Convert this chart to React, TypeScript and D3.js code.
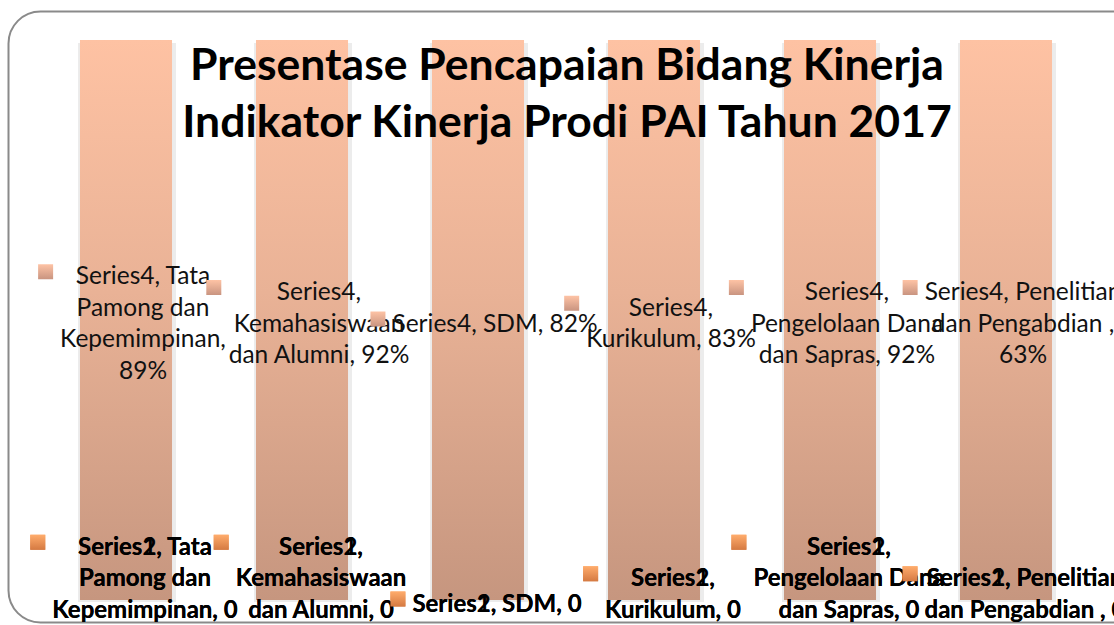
import React from 'react';
import * as d3 from 'd3';

// ---- data ----
const categories = [
  'Tata Pamong dan Kepemimpinan',
  'Kemahasiswaan dan Alumni',
  'SDM',
  'Kurikulum',
  'Pengelolaan Dana dan Sapras',
  'Penelitian dan Pengabdian ',
];
const series1 = [0, 0, 0, 0, 0, 0];
const series2 = [0, 0, 0, 0, 0, 0];
const series4 = [0.89, 0.92, 0.82, 0.83, 0.92, 0.63];
const seriesNames = ['Series1', 'Series2', 'Series4'];
const titleLines = ['Presentase Pencapaian Bidang Kinerja', 'Indikator Kinerja Prodi PAI Tahun 2017'];
// words per line of each data label (as wrapped in the original)
const topWrap = [[2, 2, 1, 1], [1, 1, 3], [3], [1, 2], [1, 2, 3], [2, 3, 1]];
const bottomWrap = [[2, 2, 2], [1, 1, 3], [3], [1, 2], [1, 2, 3], [2, 4]];

const W = 1114;
const H = 625;
const FONT = 'Lato, "Open Sans", sans-serif';
const LABEL_SIZE = 24.5;
const BOLD_SIZE = 24;
const LINE_H = 31.5;

let ctx: CanvasRenderingContext2D | null = null;
function measure(text: string, font: string): number {
  if (!ctx) ctx = document.createElement('canvas').getContext('2d');
  if (!ctx) return text.length * 10;
  ctx.font = font;
  return ctx.measureText(text).width;
}

function wrap(text: string, counts: number[]): string[] {
  const words = text.split(' ');
  const out: string[] = [];
  let i = 0;
  counts.forEach((c) => {
    out.push(words.slice(i, i + c).join(' '));
    i += c;
  });
  return out;
}

const pct = d3.format('.0%');

export default function App() {
  const rows = categories.map((c, i) => ({
    cat: c,
    Series1: series1[i],
    Series2: series2[i],
    Series4: series4[i],
  }));
  const stack = d3
    .stack<any>()
    .keys(seriesNames)
    .offset(d3.stackOffsetExpand)(rows);

  const x = d3.scaleBand<string>().domain(categories).range([38, 1094]).paddingInner(0.477).paddingOuter(0.2385);
  const y = d3.scaleLinear().domain([0, 1]).range([600, 40]);
  const bw = x.bandwidth();

  const s4 = stack.find((s) => s.key === 'Series4')!;

  const labels: any[] = [];
  ['Series1', 'Series2'].forEach((name) => {
    const s = stack.find((k) => k.key === name)!;
    categories.forEach((c, i) => {
      const v = name === 'Series1' ? series1[i] : series2[i];
      const lines = wrap(`${name}, ${c}, ${v}`, bottomWrap[i]);
      const cx = (x(c) as number) + bw / 2 + 19;
      const mid = y((s[i][0] + s[i][1]) / 2);
      const blockH = lines.length * LINE_H;
      const center = Math.min(mid + 2, 624 - blockH / 2);
      labels.push({ lines, cx, center, bold: true, key: 'orange', id: name + i });
    });
  });
  categories.forEach((c, i) => {
    const lines = wrap(`Series4, ${c}, ${pct(series4[i])}`, topWrap[i]);
    const cx = (x(c) as number) + bw / 2 + 17;
    const center = y((s4[i][0] + s4[i][1]) / 2) + 2;
    labels.push({ lines, cx, center, bold: false, key: 'peach', id: 'S4' + i });
  });

  return (
    <svg width={W} height={H} style={{ position: 'absolute', left: 0, top: 0, background: '#fff' }}>
      <defs>
        <linearGradient id="barGrad" x1="0" y1="0" x2="0" y2="1">
          <stop offset="0%" stopColor="#fec2a3" />
          <stop offset="45%" stopColor="#e9b296" />
          <stop offset="100%" stopColor="#c6967f" />
        </linearGradient>
        <linearGradient id="peachKey" x1="0" y1="0" x2="0" y2="1">
          <stop offset="0%" stopColor="#fec3a5" />
          <stop offset="100%" stopColor="#c99480" />
        </linearGradient>
        <linearGradient id="orangeKey" x1="0" y1="0" x2="0" y2="1">
          <stop offset="0%" stopColor="#ffac6c" />
          <stop offset="100%" stopColor="#d57a42" />
        </linearGradient>
      </defs>
      <rect x={8.5} y={11.5} width={1140} height={611} rx={32} ry={32} fill="#fff" stroke="#8a8a8a" strokeWidth={2} />
      {s4.map((d, i) => {
        const c = categories[i];
        const bx = x(c) as number;
        const top = y(d[1]);
        const bottom = y(0);
        return (
          <g key={c}>
            <rect x={bx - 2} y={top + 3} width={bw + 6} height={bottom - top - 1} fill="#ececec" />
            <rect x={bx} y={top} width={bw} height={bottom - top} fill="url(#barGrad)" />
          </g>
        );
      })}
      {titleLines.map((t, i) => (
        <text key={t} x={567} y={80 + i * 57} textAnchor="middle" fontFamily={FONT} fontWeight={700} fontSize={44.5} fill="#000">
          {t}
        </text>
      ))}
      {labels.map((l) => {
        const size = l.bold ? BOLD_SIZE : LABEL_SIZE;
        const font = `${l.bold ? 'bold ' : ''}${size}px Lato`;
        const maxW = d3.max(l.lines as string[], (s) => measure(s, font)) || 0;
        const firstC = l.center - ((l.lines.length - 1) * LINE_H) / 2;
        const keyX = l.cx - maxW / 2 - 22;
        return (
          <g key={l.id}>
            <rect x={keyX} y={firstC - 3 - 7.5} width={15} height={15} fill={l.key === 'orange' ? 'url(#orangeKey)' : 'url(#peachKey)'} />
            {l.lines.map((s: string, j: number) => (
              <text
                key={j}
                x={l.cx}
                y={firstC + j * LINE_H}
                dominantBaseline="central"
                textAnchor="middle"
                fontFamily={FONT}
                fontWeight={l.bold ? 700 : 400}
                fontSize={size}
                fill={l.bold ? '#000' : '#111'}
              >
                {s}
              </text>
            ))}
          </g>
        );
      })}
    </svg>
  );
}
